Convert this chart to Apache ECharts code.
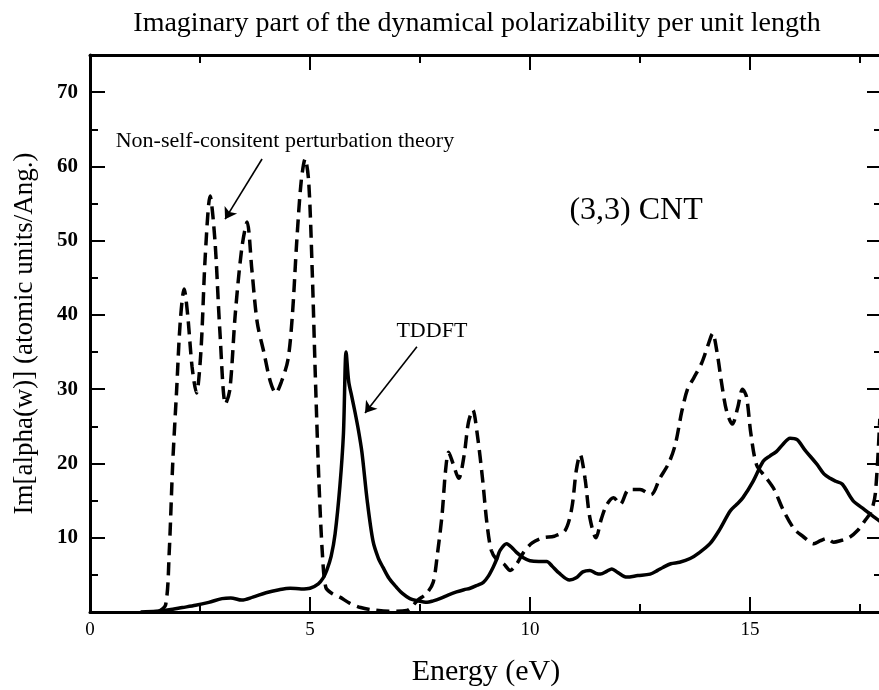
<!DOCTYPE html>
<html>
<head>
<meta charset="utf-8">
<script src="https://cdn.jsdelivr.net/npm/echarts@6/dist/echarts.min.js"></script>
<style>
  html, body { margin: 0; padding: 0; background: #ffffff; }
  #chart { width: 879px; height: 690px; }
</style>
</head>
<body>
<div id="chart"></div>
<script>
// Non-self-consistent perturbation theory spectrum (dashed)
const nscptEnergy = [
  1.55, 1.72, 1.8, 1.88, 1.97, 2.05, 2.14, 2.22, 2.32, 2.42, 2.52, 2.62, 2.73, 2.84, 2.95,
  3.08, 3.18, 3.3, 3.45, 3.57, 3.68, 3.8, 3.95, 4.1, 4.22, 4.35, 4.5, 4.6, 4.7, 4.8, 4.89,
  4.97, 5.05, 5.12, 5.2, 5.28, 5.36, 5.5, 5.68, 5.9, 6.15, 6.4, 6.8, 7.2, 7.45, 7.65, 7.8,
  7.9, 8.0, 8.08, 8.15, 8.25, 8.38, 8.5, 8.6, 8.7, 8.8, 8.92, 9.02, 9.12, 9.25, 9.4, 9.55,
  9.7, 9.85, 10.05, 10.3, 10.55, 10.8, 10.95, 11.05, 11.14, 11.25, 11.36, 11.5, 11.62, 11.75,
  11.9, 12.05, 12.25, 12.5, 12.75, 12.95, 13.15, 13.3, 13.45, 13.58, 13.72, 13.9, 14.05,
  14.15, 14.25, 14.35, 14.47, 14.6, 14.72, 14.83, 14.92, 15.02, 15.15, 15.35, 15.55, 15.75,
  16.0, 16.2, 16.45, 16.6, 16.75, 16.9, 17.05, 17.25, 17.45, 17.6, 17.75, 17.85, 17.95
];
const nscptValue = [
  0, 1, 8, 20, 30, 39, 43.5, 40, 33, 29.5, 35, 48, 56, 50, 38,
  28, 30, 40, 49, 52.5, 46, 39, 35, 31, 29.5, 31, 34, 40, 50, 58, 61,
  58, 46, 32, 18, 8, 3.3, 2.5, 2, 1.2, 0.6, 0.3, 0.1, 0.2, 1.6, 2.5, 4,
  8, 13, 19, 21.5, 20, 18, 21, 25.5, 27.2, 24, 18, 12, 8.3, 7, 6.5, 5.6,
  6.5, 8, 9.3, 10, 10.2, 11, 14, 19, 21.2, 18, 12.7, 10, 12.5, 14.5,
  15.4, 14.5, 16.5, 16.5, 15.8, 18, 20, 22.5, 27, 30, 31.5, 33.5, 36,
  37.5, 35, 31, 27, 25.3, 27.5, 30, 29, 24, 19.8, 18.2, 16.5, 13.8,
  11.2, 10.2, 9.2, 9.6, 9.9, 9.4, 9.6, 10, 11, 12.2, 13.5, 16, 26
];

// TDDFT spectrum (solid)
const tddftEnergy = [
  1.15, 1.5, 1.8, 2.1, 2.4, 2.7, 3.0, 3.2, 3.45, 3.7, 4.0, 4.3, 4.55, 4.8, 5.0, 5.19, 5.3,
  5.38, 5.48, 5.57, 5.68, 5.76, 5.82, 5.88, 5.95, 6.02, 6.1, 6.18, 6.3, 6.43, 6.55, 6.66,
  6.8, 6.97, 7.1, 7.27, 7.45, 7.66, 7.8, 7.95, 8.15, 8.33, 8.5, 8.64, 8.8, 8.94, 9.05, 9.16,
  9.25, 9.32, 9.47, 9.6, 9.7, 9.85, 10.0, 10.2, 10.38, 10.5, 10.65, 10.9, 11.05, 11.2, 11.36,
  11.5, 11.6, 11.75, 11.86, 12.0, 12.2, 12.45, 12.73, 12.9, 13.02, 13.2, 13.4, 13.64, 13.85,
  14.09, 14.3, 14.55, 14.7, 14.84, 15.07, 15.3, 15.45, 15.6, 15.75, 15.91, 16.07, 16.25,
  16.52, 16.68, 16.82, 16.95, 17.1, 17.34, 17.6, 17.84, 18.0
];
const tddftValue = [
  0, 0.1, 0.3, 0.6, 0.9, 1.3, 1.8, 1.9, 1.6, 2.0, 2.6, 3.0, 3.2, 3.1, 3.2, 3.8, 4.6,
  5.6, 7.5, 10.5, 17, 24, 35, 31, 29, 27, 24.5, 21.5, 15, 9.6, 7.3, 6,
  4.5, 3.3, 2.5, 1.8, 1.5, 1.3, 1.5, 1.8, 2.3, 2.7, 3.0, 3.2, 3.6, 4.0, 4.8, 6,
  7.2, 8.3, 9.2, 8.6, 8, 7.3, 6.9, 6.8, 6.8, 6.2, 5.3, 4.3, 4.6, 5.4, 5.6,
  5.2, 5.1, 5.5, 5.8, 5.3, 4.7, 4.9, 5.1, 5.6, 6, 6.5, 6.7, 7.2, 8,
  9.2, 11, 13.6, 14.5, 15.4, 17.6, 20.3, 21, 21.6, 22.6, 23.4, 23.2, 21.8,
  19.9, 18.6, 18, 17.6, 17.2, 15, 13.8, 12.7, 12
];

const xTickLabels = ['0', '5', '10', '15'];
const yTickLabels = ['10', '20', '30', '40', '50', '60', '70'];

const FONT = 'Liberation Serif';
const X_MIN = 0, X_MAX = 18;
const Y_MIN = 0, Y_MAX = 75;

const zip = (xs, ys) => xs.map((x, i) => [x, ys[i]]);

const tickStyle = { color: '#000', width: 2 };
const frameStyle = { color: '#000', width: 3 };

function xAxisDef(position, interval, tickLen, withLine, withLabels) {
  return {
    type: 'value', position, min: X_MIN, max: X_MAX, interval,
    axisLine: { show: withLine, onZero: false, lineStyle: frameStyle },
    axisTick: { show: true, inside: true, length: tickLen, lineStyle: tickStyle },
    axisLabel: withLabels ? {
      show: true, margin: 9, color: '#000', fontFamily: FONT, fontSize: 19,
      formatter: v => xTickLabels.includes(String(v)) ? String(v) : ''
    } : { show: false },
    splitLine: { show: false }
  };
}
function yAxisDef(position, interval, tickLen, withLine, withLabels) {
  return {
    type: 'value', position, min: Y_MIN, max: Y_MAX, interval,
    axisLine: { show: withLine, onZero: false, lineStyle: frameStyle },
    axisTick: { show: true, inside: true, length: tickLen, lineStyle: tickStyle },
    axisLabel: withLabels ? {
      show: true, margin: 12, color: '#000', fontFamily: FONT, fontSize: 21, fontWeight: 'bold',
      formatter: v => yTickLabels.includes(String(v)) ? String(v) : ''
    } : { show: false },
    splitLine: { show: false }
  };
}

const bottomMajor = xAxisDef('bottom', 5, 15, true, true);
bottomMajor.name = 'Energy (eV)';
bottomMajor.nameLocation = 'middle';
bottomMajor.nameGap = 45;
bottomMajor.nameTextStyle = { fontFamily: FONT, fontSize: 30, color: '#000' };

const leftMajor = yAxisDef('left', 10, 15, true, true);
leftMajor.name = 'Im[alpha(w)] (atomic units/Ang.)';
leftMajor.nameLocation = 'middle';
leftMajor.nameGap = 52;
leftMajor.nameTextStyle = { fontFamily: FONT, fontSize: 27, color: '#000' };

const textLabel = (text, size) => ({
  show: true, position: 'inside', formatter: text,
  fontFamily: FONT, fontSize: size, color: '#000'
});
const arrowStyle = { color: '#000', width: 1.6, type: 'solid' };

const option = {
  animation: false,
  backgroundColor: '#ffffff',
  title: {
    text: 'Imaginary part of the dynamical polarizability per unit length',
    left: 472, top: 5, textAlign: 'center',
    textStyle: { fontFamily: FONT, fontSize: 28, fontWeight: 'normal', color: '#000' }
  },
  grid: { left: 90, top: 55, width: 792, height: 557, outerBoundsMode: 'none', containLabel: false },
  xAxis: [
    bottomMajor,
    xAxisDef('bottom', 2.5, 8, false, false),
    xAxisDef('top', 5, 15, true, false),
    xAxisDef('top', 2.5, 8, false, false)
  ],
  yAxis: [
    leftMajor,
    yAxisDef('left', 5, 8, false, false),
    yAxisDef('right', 10, 15, true, false),
    yAxisDef('right', 5, 8, false, false)
  ],
  series: [
    {
      type: 'line',
      data: zip(nscptEnergy, nscptValue),
      symbol: 'none', smooth: 0.3, silent: true, z: 3,
      lineStyle: { color: '#000', width: 3.5, type: [13, 7] },
      markLine: {
        silent: true, symbol: ['none', 'arrow'], symbolSize: 11,
        label: { show: false }, lineStyle: arrowStyle,
        data: [[{ coord: [3.91, 61.0] }, { coord: [3.07, 52.9] }]]
      },
      markPoint: {
        silent: true, symbol: 'circle', symbolSize: 0,
        data: [
          { coord: [4.43, 63.4], label: textLabel('Non-self-consitent perturbation theory', 22) },
          { coord: [12.41, 54.0], label: textLabel('(3,3) CNT', 32) }
        ]
      }
    },
    {
      type: 'line',
      data: zip(tddftEnergy, tddftValue),
      symbol: 'none', smooth: 0.3, silent: true, z: 4,
      lineStyle: { color: '#000', width: 3.5, type: 'solid' },
      markLine: {
        silent: true, symbol: ['none', 'arrow'], symbolSize: 11,
        label: { show: false }, lineStyle: arrowStyle,
        data: [[{ coord: [7.43, 35.7] }, { coord: [6.25, 26.8] }]]
      },
      markPoint: {
        silent: true, symbol: 'circle', symbolSize: 0,
        data: [
          { coord: [7.77, 37.8], label: textLabel('TDDFT', 22) }
        ]
      }
    }
  ]
};

const chart = echarts.init(document.getElementById('chart'), null, { renderer: 'canvas' });
chart.setOption(option);
</script>
</body>
</html>
